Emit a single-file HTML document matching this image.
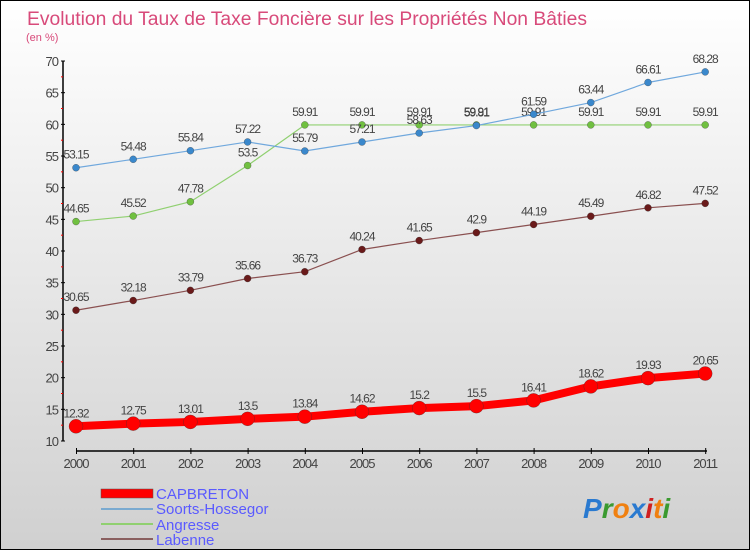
<!DOCTYPE html>
<html><head><meta charset="utf-8"><style>
body{margin:0}
#c{width:750px;height:550px;position:relative;box-sizing:border-box;border:1px solid #000;background:linear-gradient(#ffffff,#d0d0d0);font-family:"Liberation Sans",sans-serif;overflow:hidden}
svg text{font-family:"Liberation Sans",sans-serif}
</style></head><body>
<div id="c">
<svg id="s" width="750" height="550">
<text x="26" y="24" font-size="19" fill="#d84a7a" textLength="560" lengthAdjust="spacingAndGlyphs">Evolution du Taux de Taxe Foncière sur les Propriétés Non Bâties</text>
<text x="25" y="40" font-size="11" fill="#d84a7a">(en %)</text>
<g id="axes"></g><g id="series"></g>
<g>
<rect x="100" y="488" width="52" height="9" fill="#f00" stroke="#555" stroke-width="0.5"/>
<text x="155" y="498" font-size="15" fill="#5a5aff">CAPBRETON</text>
<line x1="100" y1="508" x2="152" y2="508" stroke="#7aaad0" stroke-width="2"/>
<text x="155" y="513" font-size="15" fill="#5a5aff">Soorts-Hossegor</text>
<line x1="100" y1="523" x2="152" y2="523" stroke="#90d070" stroke-width="2"/>
<text x="155" y="529" font-size="15" fill="#5a5aff">Angresse</text>
<line x1="100" y1="538" x2="152" y2="538" stroke="#8a6060" stroke-width="2"/>
<text x="155" y="544" font-size="15" fill="#5a5aff">Labenne</text>
</g>
<text x="582" y="517" font-size="28" font-weight="bold" font-style="italic"><tspan fill="#2a7ad0">P</tspan><tspan fill="#3a9a30">r</tspan><tspan fill="#f08010">o</tspan><tspan fill="#2a7ad0">x</tspan><tspan fill="#d02020">i</tspan><tspan fill="#f08010">t</tspan><tspan fill="#3a9a30">i</tspan></text>
</svg></div>
<script>
const years=["2000","2001","2002","2003","2004","2005","2006","2007","2008","2009","2010","2011"];
const yTicks=[10,15,20,25,30,35,40,45,50,55,60,65,70];
const capbreton=[12.32,12.75,13.01,13.5,13.84,14.62,15.2,15.5,16.41,18.62,19.93,20.65];
const soorts=[53.15,54.48,55.84,57.22,55.79,57.21,58.63,59.81,61.59,63.44,66.61,68.28];
const angresse=[44.65,45.52,47.78,53.5,59.91,59.91,59.91,59.91,59.91,59.91,59.91,59.91];
const labenne=[30.65,32.18,33.79,35.66,36.73,40.24,41.65,42.9,44.19,45.49,46.82,47.52];
const NS="http://www.w3.org/2000/svg";
const X=i=>75+i*57.2;
const Y=v=>440-(v-10)*6.333;
function mk(t,a,p){const e=document.createElementNS(NS,t);for(const k in a)e.setAttribute(k,a[k]);p.appendChild(e);return e;}
const ax=document.getElementById('axes');
let l=mk('line',{x1:62,y1:Y(70),x2:62,y2:Y(10),stroke:'#000','stroke-width':1.5},ax);

l=mk('line',{x1:75,y1:450,x2:706,y2:450,stroke:'#000','stroke-width':1.5},ax);

yTicks.forEach(v=>{
 const t=mk('text',{x:57,y:Y(v)+5,'font-size':13,fill:'#444','text-anchor':'end','letter-spacing':'-1'},ax);t.textContent=v;
 
 mk('line',{x1:60,y1:Y(v),x2:64,y2:Y(v),stroke:'#000'},ax);
 if(v<70) mk('line',{x1:60,y1:Y(v+2.5),x2:62,y2:Y(v+2.5),stroke:'#f00'},ax);
});
years.forEach((y,i)=>{
 mk('line',{x1:X(i)+0.5,y1:447,x2:X(i)+0.5,y2:453,stroke:'#000'},ax);
 const t=mk('text',{x:X(i),y:467,'font-size':13,fill:'#444','text-anchor':'middle','letter-spacing':'-1'},ax);t.textContent=y;
 
});
const sg=document.getElementById('series');
function series(name,vals,col,dot,w,r){
 const g=mk('g',{},sg);
 
 const p=mk('polyline',{points:vals.map((v,i)=>X(i)+','+Y(v)).join(' '),fill:'none',stroke:col,'stroke-width':w},g);
 
 vals.forEach((v,i)=>{
  const c=mk('circle',{cx:X(i),cy:Y(v),r:r,fill:dot,stroke:'#333','stroke-width':0.3},g);
  
  const t=mk('text',{x:X(i),y:Y(v)-9,'font-size':12,fill:'#444','text-anchor':'middle','letter-spacing':'-1'},g);t.textContent=v;
  
 });
}
series('labenne',labenne,'#8a5050','#6a1a1a',1.2,3.5);
series('angresse',angresse,'#90d070','#70c040',1.2,3.5);
series('soorts-hossegor',soorts,'#70a8dd','#3a88cc',1.2,3.5);
series('capbreton',capbreton,'#f00','#f00',8,7);
</script>
</body></html>
